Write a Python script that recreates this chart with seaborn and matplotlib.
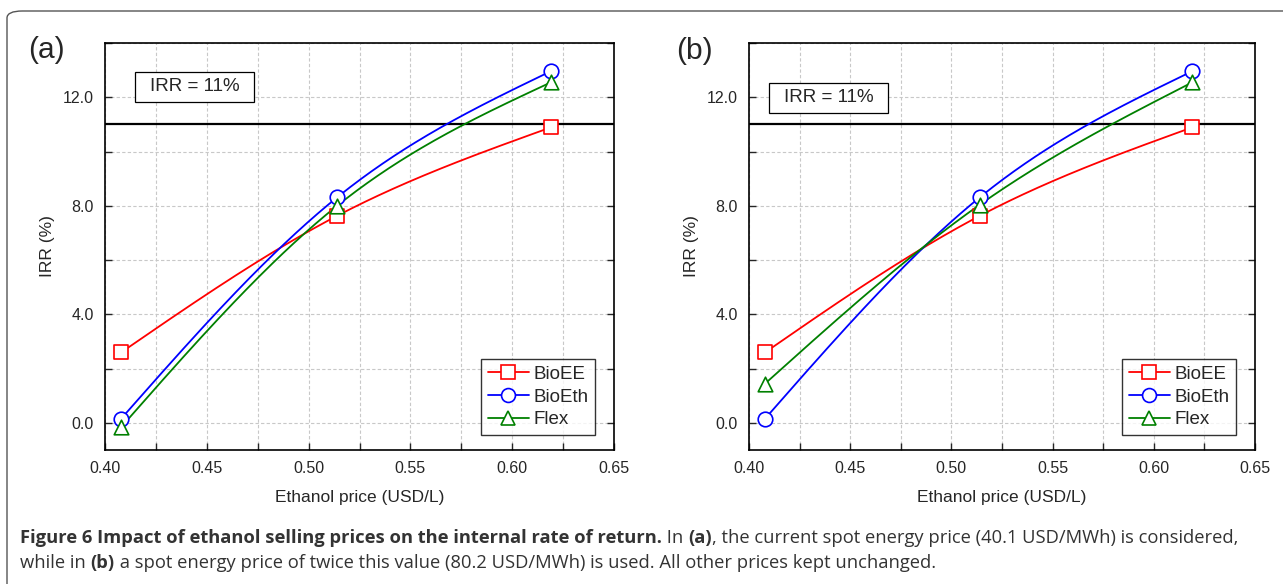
import numpy as np
import pandas as pd
import seaborn as sns
import matplotlib.pyplot as plt
from matplotlib.lines import Line2D
from matplotlib.patches import FancyBboxPatch, Rectangle
from matplotlib.ticker import MultipleLocator, FormatStrFormatter
from matplotlib.transforms import IdentityTransform

# Data
ethanol_price = [0.408, 0.514, 0.619]
irr_a = {
    "BioEE": [2.6, 7.63, 10.89],
    "BioEth": [0.16, 8.31, 12.96],
    "Flex": [-0.15, 8.0, 12.55],
}
irr_b = {
    "BioEE": [2.6, 7.63, 10.89],
    "BioEth": [0.16, 8.31, 12.96],
    "Flex": [1.45, 8.04, 12.55],
}
irr_target = 11
panel_labels = ["(a)", "(b)"]

colors = {"BioEE": "#ff0000", "BioEth": "#0000ff", "Flex": "#008000"}
markers = {"BioEE": "s", "BioEth": "o", "Flex": "^"}

sns.set_style("white")
plt.rcParams["font.family"] = ["Liberation Sans", "DejaVu Sans"]


def natural_spline(x, y, n=200):
    # smooth connecting line through the points (natural cubic spline)
    x = np.asarray(x, float)
    y = np.asarray(y, float)
    h = np.diff(x)
    d = np.diff(y) / h
    k = len(x)
    A = np.zeros((k, k))
    r = np.zeros(k)
    A[0, 0] = A[-1, -1] = 1
    for i in range(1, k - 1):
        A[i, i - 1] = h[i - 1]
        A[i, i] = 2 * (h[i - 1] + h[i])
        A[i, i + 1] = h[i]
        r[i] = 6 * (d[i] - d[i - 1])
    M = np.linalg.solve(A, r)
    xs = np.linspace(x[0], x[-1], n)
    idx = np.clip(np.searchsorted(x, xs) - 1, 0, k - 2)
    x0, x1 = x[idx], x[idx + 1]
    hh = x1 - x0
    ys = (M[idx] * (x1 - xs) ** 3 / (6 * hh) + M[idx + 1] * (xs - x0) ** 3 / (6 * hh)
          + (y[idx] / hh - M[idx] * hh / 6) * (x1 - xs)
          + (y[idx + 1] / hh - M[idx + 1] * hh / 6) * (xs - x0))
    return xs, ys


fig = plt.figure(figsize=(12.83, 5.84), dpi=100)

# rounded frame around the figure
frame = FancyBboxPatch((7 / 1283, -0.2), 1.2, 1.2 - 11 / 584,
                       boxstyle="round,pad=0,rounding_size=0.012",
                       transform=fig.transFigure, fill=False,
                       edgecolor="#555555", linewidth=1.0)
fig.patches.append(frame)

axes_pos = [[105 / 1283, 134 / 584, 509 / 1283, 407 / 584],
            [749 / 1283, 134 / 584, 506 / 1283, 407 / 584]]
# IRR box: (x0, y0, width, height) in axes fraction
irr_box = [(0.059, 0.855, 0.234, 0.074), (0.0395, 0.828, 0.2355, 0.074)]
label_pos = [(28, 526), (676, 525)]

for k, (data, pos) in enumerate(zip([irr_a, irr_b], axes_pos)):
    ax = fig.add_axes(pos)
    ax.set_xlim(0.40, 0.65)
    ax.set_ylim(-1, 14)
    ax.xaxis.set_major_locator(MultipleLocator(0.05))
    ax.xaxis.set_minor_locator(MultipleLocator(0.025))
    ax.yaxis.set_major_locator(MultipleLocator(4))
    ax.yaxis.set_minor_locator(MultipleLocator(2))
    ax.xaxis.set_major_formatter(FormatStrFormatter("%.2f"))
    ax.yaxis.set_major_formatter(FormatStrFormatter("%.1f"))
    ax.grid(True, which="both", color="#c8c8c8", linestyle=(0, (3, 2)), linewidth=0.8)
    ax.set_axisbelow(True)
    ax.tick_params(which="both", direction="in", left=True, right=True, bottom=True,
                   top=False, labelsize=11.5, length=5, width=1, pad=8)
    for s in ax.spines.values():
        s.set_linewidth(1.2)
        s.set_color("black")

    ax.axhline(irr_target, color="black", lw=1.6, zorder=3)

    for name, vals in data.items():
        xs, ys = natural_spline(ethanol_price, vals)
        sns.lineplot(x=xs, y=ys, ax=ax, color=colors[name], lw=1.3, zorder=4,
                     estimator=None, sort=False)
        sns.scatterplot(x=ethanol_price, y=vals, ax=ax, marker=markers[name],
                        s=110, facecolor="white", edgecolor=colors[name],
                        linewidth=1.2, zorder=5)

    handles = [Line2D([], [], color=colors[n], marker=markers[n], markersize=10,
                      markerfacecolor="white", markeredgewidth=1.2, lw=1.3)
               for n in data]
    leg = ax.legend(handles, list(data.keys()), loc="lower right",
                    bbox_to_anchor=(0.963, 0.037), fontsize=13.5, frameon=True,
                    fancybox=False, edgecolor="black", handlelength=2.2,
                    handletextpad=0.25, borderpad=0.35, labelspacing=0.3,
                    borderaxespad=0)
    leg.get_frame().set_linewidth(1.0)

    bx, by, bw, bh = irr_box[k]
    ax.add_patch(Rectangle((bx, by), bw, bh, transform=ax.transAxes,
                           facecolor="white", edgecolor="black", lw=0.9, zorder=6))
    ax.text(bx + bw / 2, by + bh / 2, "IRR = 11%", transform=ax.transAxes,
            fontsize=13.5, ha="center", va="center", zorder=7)

    ax.set_xlabel("Ethanol price (USD/L)", fontsize=12.5, labelpad=10)
    ax.set_ylabel("IRR (%)", fontsize=12.5, labelpad=6)
    fig.text(label_pos[k][0], label_pos[k][1], panel_labels[k], fontsize=21.5,
             transform=IdentityTransform(), va="baseline")

# caption with bold runs
caption_lines = [
    [("Figure 6 Impact of ethanol selling prices on the internal rate of return.", True),
     (" In ", False), ("(a)", True),
     (", the current spot energy price (40.1 USD/MWh) is considered,", False)],
    [("while in ", False), ("(b)", True),
     (" a spot energy price of twice this value (80.2 USD/MWh) is used. All other prices kept unchanged.", False)],
]
caption_y = [584 - 543, 584 - 568]
cap_color = "#333333"

fig.canvas.draw()
renderer = fig.canvas.get_renderer()
for parts, y in zip(caption_lines, caption_y):
    x = 20
    for txt, bold in parts:
        t = fig.text(x, y, txt, fontsize=13.2, fontweight="bold" if bold else "normal",
                     family=["Open Sans", "DejaVu Sans"],
                     color=cap_color, transform=IdentityTransform(), va="baseline")
        bb = t.get_window_extent(renderer)
        x = bb.x1

fig.savefig("out.png", dpi=100)
